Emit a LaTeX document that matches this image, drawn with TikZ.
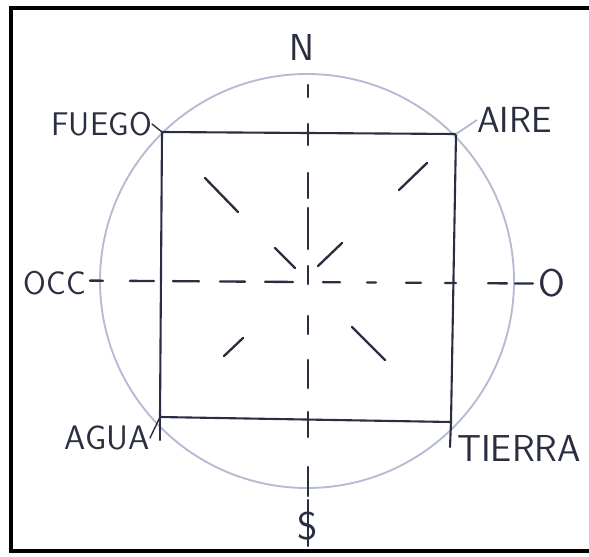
\documentclass[tikz,border=0pt]{standalone}
\usepackage{tikz}
\usetikzlibrary{positioning}
\definecolor{ink}{RGB}{42,46,64}
\definecolor{pencil}{RGB}{180,188,211}

\begin{document}
\begin{tikzpicture}[x=0.03cm, y=-0.03cm,
    tag/.style={font=\sffamily\fontsize{27}{27}\selectfont, text=ink, inner sep=0pt},
    edge/.style={draw=ink, line width=1.8pt, line cap=round},
    stroke/.style={draw=ink, line width=2pt, line cap=round},
    orb/.style={draw=pencil, line width=1.6pt}
]
\useasboundingbox (0,0) rectangle (589,556);
\draw[line width=2.6pt] (620,8) -- (11,8) -- (11,551) -- (620,551);

% circle and square
\draw[orb] (307,281) circle[radius=207];
\coordinate (fuego) at (162,132);
\coordinate (aire) at (456,134);
\coordinate (tierra) at (451,422);
\coordinate (agua) at (160,417);
\draw[edge] (fuego) -- (aire) -- (tierra) -- (agua) -- cycle;
\draw[edge] (agua) -- ++(0,23);
\draw[edge] (tierra) -- ++(-1,25);

% labels
\node[tag, font=\sffamily\fontsize{28}{28}\selectfont, anchor=east] (lfuego) at (152,124) {FUEGO};
\node[tag, font=\sffamily\fontsize{31}{31}\selectfont, anchor=west] (laire) at (477,120) {AIRE};
\node[tag, font=\sffamily\fontsize{29}{29}\selectfont, anchor=east] (lagua) at (150,438) {AGUA};
\node[tag, font=\sffamily\fontsize{32}{32}\selectfont, anchor=west] (ltierra) at (457,448) {TIERRA};
\node[tag, font=\sffamily\fontsize{28}{28}\selectfont] (occ) at (55,283) {OCC};
\node[tag, font=\sffamily\fontsize{33}{33}\selectfont] (ori) at (552,283) {O};
\node[tag, font=\sffamily\fontsize{32}{32}\selectfont] (norte) at (302,47) {N};
\node[tag, font=\sffamily\fontsize{33}{33}\selectfont] (sur) at (308,526) {S};
\draw[edge, line width=1.2pt] (lfuego.east) -- (fuego);
\draw[orb] (aire) -- (laire.west);
\draw[edge, line width=1.2pt] (lagua.east) -- (agua);

% north-south and west-east dashes
\foreach \a/\b in {85/97, 124/145, 173/198, 208/249, 266/284, 316/334, 360/388, 412/437, 467/496, 500/546}
  \draw[stroke] (308,\a) -- (308,\b);
\foreach \a/\b in {90/103, 130/154, 173/199, 220/245, 265/293, 323/340, 367/376, 406/421, 445/456, 488/507, 515/533}
  \draw[stroke] (\a,{280+\a/150}) -- (\b,{280+\b/150});

% diagonal rays
\draw[stroke] (205,178) -- (238,212);
\draw[stroke] (399,190) -- (427,163);
\draw[stroke] (275,248) -- (295,268);
\draw[stroke] (318,266) -- (342,243);
\draw[stroke] (224,356) -- (243,338);
\draw[stroke] (352,327) -- (385,360);
\end{tikzpicture}
\end{document}
